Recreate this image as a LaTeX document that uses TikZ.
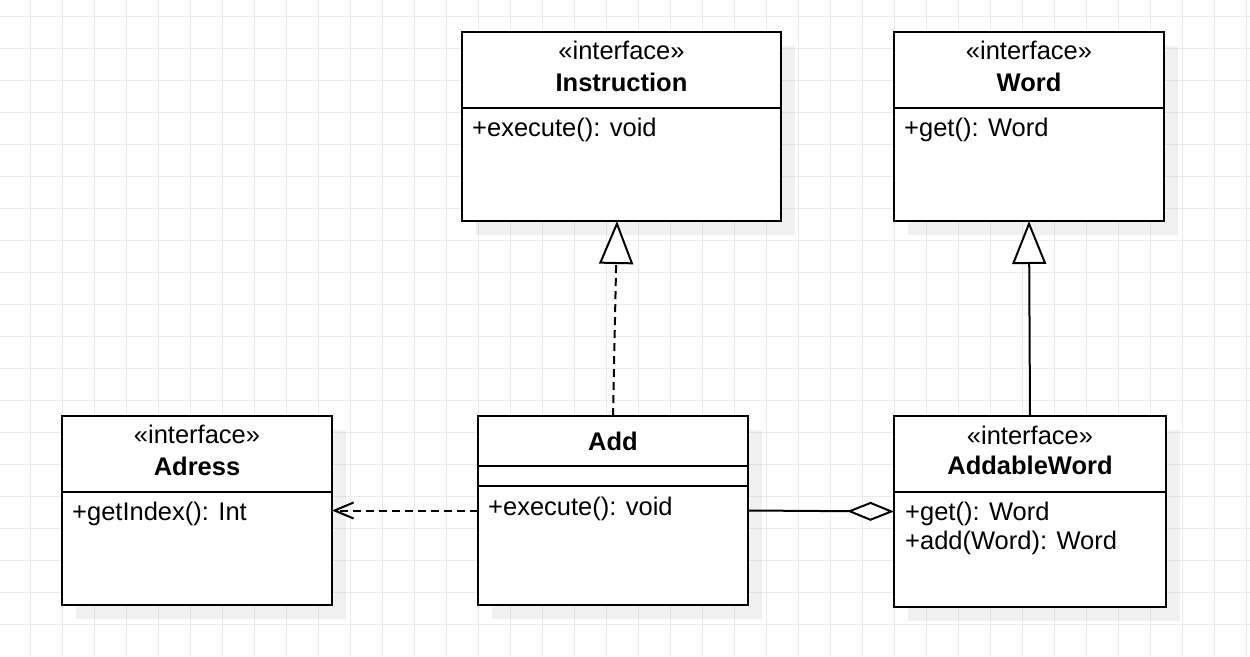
\documentclass[tikz,border=0pt]{standalone}
\usepackage{fontspec}
\setmainfont{Liberation Sans}
\usetikzlibrary{arrows.meta,shadows}
\def\umlfont{\fontsize{25.5}{30}\selectfont}
\tikzset{
	umlclass/.style={draw, line width=2pt, fill=white, anchor=north west, inner sep=0pt, outer sep=0pt,
		drop shadow={shadow xshift=14pt, shadow yshift=-14pt, fill=black, opacity=0.055}},
	stereo/.style={anchor=base, inner sep=0pt, font=\umlfont},
	classname/.style={anchor=base, inner sep=0pt, font=\umlfont\bfseries},
	member/.style={anchor=base west, inner sep=0pt, font=\umlfont},
	boxline/.style={line width=2pt},
	gridline/.style={line width=1pt, color=black!8},
	realize/.style={line width=2pt, dash pattern=on 8pt off 5pt, -{Triangle[length=43pt, width=34pt, fill=white]}},
	generalize/.style={line width=2pt, -{Triangle[length=43pt, width=34pt, fill=white]}},
	depend/.style={line width=2pt, dash pattern=on 8pt off 5pt, -{Straight Barb[length=19pt, width=16pt]}},
	aggregate/.style={line width=2pt, -{Diamond[length=47pt, width=19pt, fill=white]}}
}

\begin{document}
\begin{tikzpicture}[x=1pt, y=-1pt]
			%%%%% START %%%%%
			
			\useasboundingbox (0, 0) rectangle (1250, 656);
			\fill[white] (0, 0) rectangle (1250, 656);
			
			\foreach \gx in {30, 62, ..., 1246}
				\draw[gridline] (\gx, 0) -- (\gx, 656);
			\foreach \gy in {16, 48, ..., 624}
				\draw[gridline] (0, \gy) -- (1250, \gy);
			
			% interfaces on top
			\node[umlclass, minimum width=319pt, minimum height=189pt] (instrbox) at (462, 32) {};
			\node[stereo] (instrst) at (621.5, 59) {«interface»};
			\node[classname] (instrname) at (621.5, 91) {Instruction};
			\draw[boxline] (instrbox.west |- 0,108) -- (instrbox.east |- 0,108);
			\node[member] (instrop) at (472, 136) {+execute(): void};
			
			\node[umlclass, minimum width=270pt, minimum height=189pt] (wordbox) at (894, 32) {};
			\node[stereo] (wordst) at (1029, 59) {«interface»};
			\node[classname] (wordname) at (1029, 91) {Word};
			\draw[boxline] (wordbox.west |- 0,108) -- (wordbox.east |- 0,108);
			\node[member] (wordop) at (904, 136) {+get(): Word};
			
			% bottom row
			\node[umlclass, minimum width=270pt, minimum height=189pt] (adressbox) at (62, 416) {};
			\node[stereo] (adressst) at (197, 443) {«interface»};
			\node[classname] (adressname) at (197, 475) {Adress};
			\draw[boxline] (adressbox.west |- 0,492) -- (adressbox.east |- 0,492);
			\node[member] (adressop) at (72, 520) {+getIndex(): Int};
			
			\node[umlclass, minimum width=270pt, minimum height=189pt] (addbox) at (478, 416) {};
			\node[classname] (addname) at (613, 450) {Add};
			\draw[boxline] (addbox.west |- 0,466) -- (addbox.east |- 0,466);
			\draw[boxline] (addbox.west |- 0,486) -- (addbox.east |- 0,486);
			\node[member] (addop) at (488, 515) {+execute(): void};
			
			\node[umlclass, minimum width=272pt, minimum height=191pt] (addwbox) at (894, 416) {};
			\node[stereo] (addwst) at (1030, 444) {«interface»};
			\node[classname] (addwname) at (1030, 474.5) {AddableWord};
			\draw[boxline] (addwbox.west |- 0,492) -- (addwbox.east |- 0,492);
			\node[member] (addwget) at (905, 520) {+get(): Word};
			\node[member] (addwadd) at (905, 549.5) {+add(Word): Word};
			
			% relations
			\draw[realize] (addbox.north) -- ([xshift=-4.5pt]instrbox.south);
			\draw[generalize] (addwbox.north) -- (wordbox.south);
			\draw[depend] (addbox.west) -- (adressbox.east);
			\draw[aggregate] (addbox.east) -- (addwbox.west);
			
			%%%%% END %%%%%
		\end{tikzpicture}
\end{document}
